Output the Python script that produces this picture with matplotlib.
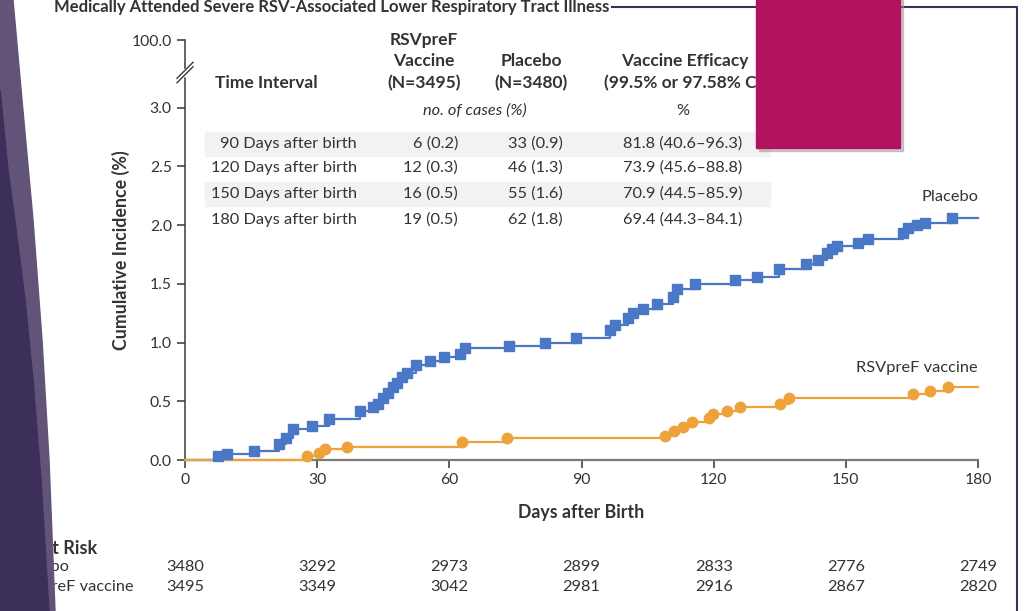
import matplotlib
matplotlib.use("Agg")
import matplotlib.pyplot as plt
from matplotlib.patches import Polygon, Rectangle

plt.rcParams['font.family'] = ['Lato', 'DejaVu Sans']

# curvas de incidência acumulada (%)
dias_placebo = [0, 7.5, 9.5, 15.7, 21.4, 23.0, 24.5, 28.8, 32.7, 39.7,
                42.7, 43.8, 45.0, 46.0, 47.2, 48.1, 49.3, 50.4, 52.4, 55.6,
                58.8, 62.4, 63.6, 73.6, 81.8, 88.8, 96.5, 97.6, 100.6, 101.7,
                104.0, 107.2, 110.8, 111.7, 115.8, 124.8, 129.9, 134.8, 141.0, 143.7,
                145.7, 146.9, 148.0, 152.8, 155.0, 163.0, 164.1, 166.2, 168.0, 174.1,
                180]
inc_placebo = [0, 0.03, 0.05, 0.08, 0.14, 0.19, 0.26, 0.29, 0.35, 0.42,
               0.45, 0.48, 0.53, 0.57, 0.62, 0.66, 0.71, 0.74, 0.81, 0.84,
               0.88, 0.90, 0.95, 0.97, 1.00, 1.04, 1.11, 1.15, 1.21, 1.25,
               1.29, 1.33, 1.39, 1.46, 1.50, 1.53, 1.56, 1.63, 1.67, 1.70,
               1.76, 1.80, 1.82, 1.85, 1.88, 1.93, 1.98, 2.00, 2.02, 2.06,
               2.06]

dias_vacina = [0, 27.7, 30.4, 31.8, 36.7, 62.9, 73.1, 109.0, 111.0, 113.0,
               115.0, 119.0, 119.9, 123.0, 126.0, 135.0, 137.0, 165.3, 169.0, 173.2,
               180]
inc_vacina = [0, 0.03, 0.06, 0.09, 0.11, 0.15, 0.19, 0.205, 0.25, 0.28,
              0.32, 0.36, 0.39, 0.42, 0.45, 0.48, 0.53, 0.56, 0.59, 0.62,
              0.62]

# tabela do quadro interno
intervalos = ['90 Days after birth', '120 Days after birth',
              '150 Days after birth', '180 Days after birth']
casos_vacina = ['6 (0.2)', '12 (0.3)', '16 (0.5)', '19 (0.5)']
casos_placebo = ['33 (0.9)', '46 (1.3)', '55 (1.6)', '62 (1.8)']
eficacia = ['81.8 (40.6\u201396.3)', '73.9 (45.6\u201388.8)',
            '70.9 (44.5\u201385.9)', '69.4 (44.3\u201384.1)']

# número em risco
dias_risco = [0, 30, 60, 90, 120, 150, 180]
risco_placebo = [3480, 3292, 2973, 2899, 2833, 2776, 2749]
risco_vacina = [3495, 3349, 3042, 2981, 2916, 2867, 2820]

y_ticks = [0.0, 0.5, 1.0, 1.5, 2.0, 2.5, 3.0]
y_topo = 3.577   # posição do rótulo 100.0 acima da quebra
y_quebra = 3.30

azul = '#4a78c6'
laranja = '#eea23a'
texto = '#333333'

W, H = 1030, 611
fig = plt.figure(figsize=(W / 100, H / 100), dpi=100)


def px(x, y):
    return x / W, 1 - y / H


def ftxt(x, y, s, **kw):
    kw.setdefault('color', texto)
    kw.setdefault('fontsize', 11.8)
    kw.setdefault('va', 'center')
    fig.text(*px(x, y), s, **kw)


ax = fig.add_axes([185 / W, 1 - 460 / H, (978 - 185) / W, (460 - 40) / H])
ax.set_xlim(0, 180)
ax.set_ylim(0, y_topo)

ax.step(dias_placebo, inc_placebo, where='post', color=azul, lw=1.6, zorder=3, clip_on=False)
ax.plot(dias_placebo[1:-1], inc_placebo[1:-1], 's', color=azul, ms=7.5, zorder=4, clip_on=False)
ax.step(dias_vacina, inc_vacina, where='post', color=laranja, lw=1.6, zorder=3, clip_on=False)
ax.plot(dias_vacina[1:-1], inc_vacina[1:-1], 'o', color=laranja, ms=7.5, zorder=4, clip_on=False)

ax.set_xticks(dias_risco)
ax.set_yticks(y_ticks + [y_topo])
ax.set_yticklabels([f'{v:.1f}' for v in y_ticks] + ['100.0'])
ax.tick_params(colors=texto, labelsize=11.3, length=6, width=1.1, direction='out')
for s in ['top', 'right']:
    ax.spines[s].set_visible(False)
ax.spines['left'].set_color('#3a3a3a')
ax.spines['left'].set_linewidth(1.1)
ax.spines['bottom'].set_color('#7a7a7a')
ax.spines['bottom'].set_linewidth(1.6)

# marca de quebra no eixo y
dx = 8 * 180 / 793
dy = 8 / 117.4
g = 2.2 / 117.4
ax.plot([0, 0], [y_quebra - g, y_quebra + g], color='white', lw=2.5, clip_on=False, zorder=5)
for off in (-g, g):
    ax.plot([-dx, dx], [y_quebra + off - dy, y_quebra + off + dy], color='#3a3a3a',
            lw=1.0, clip_on=False, zorder=6)

ax.set_xlabel('Days after Birth', fontsize=12.8, fontweight='bold', color=texto, labelpad=12)
ax.set_ylabel('Cumulative Incidence (%)', fontsize=12.8, fontweight='bold', color=texto, labelpad=1)

ax.text(180, 2.24, 'Placebo', ha='right', va='center', fontsize=11.8, color=texto)
ax.text(180, 0.78, 'RSVpreF vaccine', ha='right', va='center', fontsize=11.8, color=texto)

# quadro da tabela
linhas_y = [144, 168, 194, 220]
for i in (0, 2):
    fig.patches.append(Rectangle(px(205, linhas_y[i] + 12), 565 / W, 24 / H,
                                 transform=fig.transFigure, color='#f2f2f2', zorder=0))

cab = dict(fontweight='bold', fontsize=12.5)
ftxt(215, 83, 'Time Interval', **cab)
ftxt(424, 40, 'RSVpreF', ha='center', **cab)
ftxt(424, 61, 'Vaccine', ha='center', **cab)
ftxt(424, 83, '(N=3495)', ha='center', **cab)
ftxt(531, 61, 'Placebo', ha='center', **cab)
ftxt(531, 83, '(N=3480)', ha='center', **cab)
ftxt(685, 61, 'Vaccine Efficacy', ha='center', **cab)
ftxt(685, 83, '(99.5% or 97.58% CI)', ha='center', **cab)
ftxt(475, 111, 'no. of cases (%)', ha='center', style='italic')
ftxt(683, 111, '%', ha='center')
for i, yy in enumerate(linhas_y):
    ftxt(357, yy, intervalos[i], ha='right')
    ftxt(458, yy, casos_vacina[i], ha='right')
    ftxt(563, yy, casos_placebo[i], ha='right')
    ftxt(683, yy, eficacia[i], ha='center')

# número em risco
ftxt(10, 548, 'No. at Risk', fontweight='bold', fontsize=13)
ftxt(12, 567, 'Placebo')
ftxt(12, 587, 'RSVpreF vaccine')
for d, rp, rv in zip(dias_risco, risco_placebo, risco_vacina):
    xx = 185 + d * 793 / 180
    ftxt(xx, 567, str(rp), ha='center')
    ftxt(xx, 587, str(rv), ha='center')

# título cortado no topo
ftxt(54, 12, 'Medically Attended Severe RSV-Associated Lower Respiratory Tract Illness',
     fontweight='bold', fontsize=12, va='baseline')

# elementos do slide
fig.add_artist(plt.Line2D([612 / W, 1017 / W, 1017 / W], [1 - 7 / H, 1 - 7 / H, 0],
                          transform=fig.transFigure, color='#3c2f5c', lw=1.5))
fig.patches.append(Rectangle(px(759, 151), 144 / W, 151 / H, transform=fig.transFigure,
                             color='#999999', alpha=0.5, zorder=8))
fig.patches.append(Rectangle(px(756, 148), 144 / W, 148 / H, transform=fig.transFigure,
                             color='#b1135f', zorder=9))

claro = [(0, 0), (13, 0), (22, 100), (33, 220), (42, 340), (49, 460), (55, 611), (0, 611)]
escuro = [(0, 90), (8, 170), (15, 221), (25, 300), (33, 380), (41, 480), (49, 611), (0, 611)]
fig.patches.append(Polygon([px(*p) for p in claro], closed=True, transform=fig.transFigure,
                           color='#625478', zorder=10))
fig.patches.append(Polygon([px(*p) for p in escuro], closed=True, transform=fig.transFigure,
                           color='#3c2f5a', zorder=11))

fig.savefig('out.png', dpi=100)
